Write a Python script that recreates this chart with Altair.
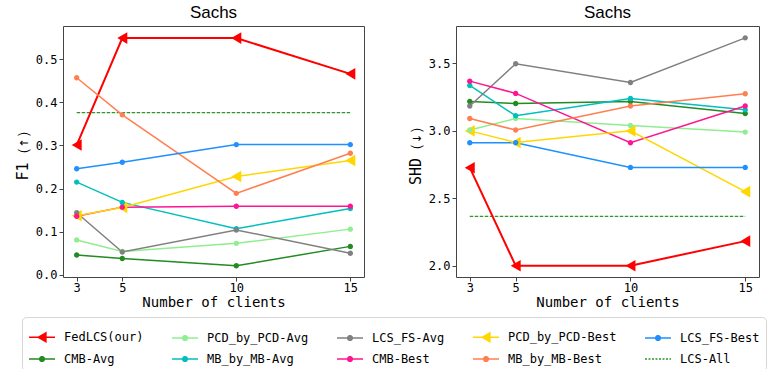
import altair as alt
import pandas as pd

clients = [3, 5, 10, 15]
series = ["FedLCS(our)", "CMB-Avg", "PCD_by_PCD-Avg", "MB_by_MB-Avg", "LCS_FS-Avg",
          "CMB-Best", "PCD_by_PCD-Best", "MB_by_MB-Best", "LCS_FS-Best", "LCS-All"]
colors = ["#ff0000", "#228b22", "#90ee90", "#00bfbf", "#808080",
          "#ff1493", "#ffd700", "#ff7f50", "#1e90ff", "#2e962e"]
triangle_series = ["FedLCS(our)", "PCD_by_PCD-Best"]

# F1 values (left panel)
f1_fedlcs = [0.301, 0.549, 0.549, 0.466]
f1_cmb_avg = [0.046, 0.038, 0.021, 0.066]
f1_pcd_avg = [0.081, 0.054, 0.073, 0.106]
f1_mb_avg = [0.215, 0.168, 0.107, 0.154]
f1_lcsfs_avg = [0.144, 0.053, 0.104, 0.050]
f1_cmb_best = [0.136, 0.157, 0.159, 0.159]
f1_pcd_best = [0.137, 0.156, 0.228, 0.265]
f1_mb_best = [0.457, 0.371, 0.189, 0.282]
f1_lcsfs_best = [0.246, 0.261, 0.302, 0.302]
f1_lcs_all = [0.376, 0.376, 0.376, 0.376]

# SHD values (right panel)
shd_fedlcs = [2.727, 2.0, 2.0, 2.182]
shd_cmb_avg = [3.218, 3.203, 3.218, 3.129]
shd_pcd_avg = [3.006, 3.092, 3.040, 2.991]
shd_mb_avg = [3.337, 3.112, 3.240, 3.157]
shd_lcsfs_avg = [3.184, 3.498, 3.359, 3.690]
shd_cmb_best = [3.369, 3.278, 2.912, 3.184]
shd_pcd_best = [3.000, 2.914, 3.000, 2.549]
shd_mb_best = [3.092, 3.006, 3.184, 3.275]
shd_lcsfs_best = [2.912, 2.912, 2.729, 2.729]
shd_lcs_all = [2.366, 2.366, 2.366, 2.366]

f1_ticks = [0.0, 0.1, 0.2, 0.3, 0.4, 0.5]
shd_ticks = [2.0, 2.5, 3.0, 3.5]

f1_all = [f1_fedlcs, f1_cmb_avg, f1_pcd_avg, f1_mb_avg, f1_lcsfs_avg,
          f1_cmb_best, f1_pcd_best, f1_mb_best, f1_lcsfs_best, f1_lcs_all]
shd_all = [shd_fedlcs, shd_cmb_avg, shd_pcd_avg, shd_mb_avg, shd_lcsfs_avg,
           shd_cmb_best, shd_pcd_best, shd_mb_best, shd_lcsfs_best, shd_lcs_all]


def frame(values_list):
    rows = []
    for i, (name, vals) in enumerate(zip(series, values_list)):
        for c, v in zip(clients, vals):
            rows.append({"clients": c, "series": name, "value": v, "k": i})
    return pd.DataFrame(rows)


TRI = "M-0.5,0L0.5,-0.58L0.5,0.58Z"
CIRC = "M-0.27,0A0.27,0.27 0 1,1 0.27,0A0.27,0.27 0 1,1 -0.27,0Z"
LEG_TRI = "M-1,0L1,0M-0.3,0L0.3,-0.34L0.3,0.34Z"
LEG_CIRC = "M-1,0L1,0M-0.18,0A0.18,0.18 0 1,1 0.18,0A0.18,0.18 0 1,1 -0.18,0Z"
LEG_LINE = "M-1,0L1,0"

MONO = "DejaVu Sans Mono"

legend = alt.Legend(
    title=None, orient="none", legendX=-41, legendY=291, columns=5, direction="vertical",
    symbolSize=676, symbolStrokeWidth=1.5, symbolOpacity=1,
    labelFont=MONO, labelFontSize=12, labelColor="black", labelOffset=8, labelLimit=0,
    columnPadding=25, rowPadding=-3, padding=6,
    strokeColor="#d6d6d6", fillColor="white", cornerRadius=4,
)

color_scale = alt.Scale(domain=series, range=colors)
fill_scale = alt.Scale(domain=series, range=colors)
legend_shape_scale = alt.Scale(
    domain=series,
    range=[LEG_TRI if s in triangle_series else (LEG_LINE if s == "LCS-All" else LEG_CIRC)
           for s in series])
dash_scale = alt.Scale(domain=series,
                       range=[[2, 1.5] if s == "LCS-All" else [1, 0] for s in series])

tri_test = " || ".join("datum.series === '" + s + "'" for s in triangle_series)


def panel(values_list, ydomain, yticks, ytitle, width, with_legend):
    df = frame(values_list)
    x = alt.X("clients:Q",
              scale=alt.Scale(domain=[2.4, 15.6], nice=False, zero=False),
              axis=alt.Axis(values=clients, format="d", title="Number of clients"))
    y = alt.Y("value:Q",
              scale=alt.Scale(domain=ydomain, nice=False, zero=False),
              axis=alt.Axis(values=yticks, format=".1f", title=ytitle))
    col = alt.Color("series:N", scale=color_scale, legend=legend)
    base = alt.Chart(df)
    dashed = base.transform_filter("datum.series === 'LCS-All'").mark_line(
        strokeDash=[3.5, 1.5], strokeWidth=1.2).encode(x=x, y=y, color=col)
    lines = base.transform_filter("datum.series !== 'LCS-All'").mark_line().encode(
        x=x, y=y, color=col,
        strokeWidth=alt.condition("datum.series === 'FedLCS(our)'", alt.value(2), alt.value(1.5)),
        order="clients:Q",
    )
    tris = base.transform_filter(tri_test).mark_point(
        filled=True, size=400, strokeWidth=0, opacity=1, shape=TRI).encode(x=x, y=y, color=col)
    circs = base.transform_filter("!(" + tri_test + ") && datum.series !== 'LCS-All'").mark_point(
        filled=True, size=400, strokeWidth=0, opacity=1, shape=CIRC).encode(x=x, y=y, color=col)
    layers = [dashed, lines, tris, circs]
    if with_legend:
        leg = base.transform_filter("false").mark_point(filled=False, strokeWidth=1.5).encode(
            x=x, y=y, color=col,
            fill=alt.Fill("series:N", scale=fill_scale, legend=legend),
            shape=alt.Shape("series:N", scale=legend_shape_scale, legend=legend),
            strokeDash=alt.StrokeDash("series:N", scale=dash_scale, legend=legend),
        )
        layers.append(leg)
    return alt.layer(*layers).properties(
        width=width, height=251,
        title=alt.TitleParams("Sachs", fontSize=17, font="Liberation Sans",
                              fontWeight="normal", offset=4, color="black"),
    )


left = panel(f1_all, [-0.005, 0.577], f1_ticks, "F1（↑）", 301, True)
right = panel(shd_all, [1.916, 3.778], shd_ticks, "SHD（↓）", 303, False)

chart = alt.hconcat(left, right, spacing=42).properties(
    padding={"left": 14, "top": 3, "right": 0, "bottom": 0}
).configure_view(
    stroke="#444444", strokeWidth=1
).configure_axis(
    grid=False, domain=False, tickColor="#444444", tickSize=4, tickWidth=1,
    labelFont=MONO, labelFontSize=12, labelColor="black", labelPadding=2,
    titleFont=MONO, titleFontSize=14, titleFontWeight="normal", titleColor="black",
).configure_axisX(
    labelPadding=1, titlePadding=2, labelAngle=0,
).configure_axisY(
    titlePadding=5, titleFontSize=15,
)

chart.save("out.html", embed_options={"renderer": "svg", "actions": False})
